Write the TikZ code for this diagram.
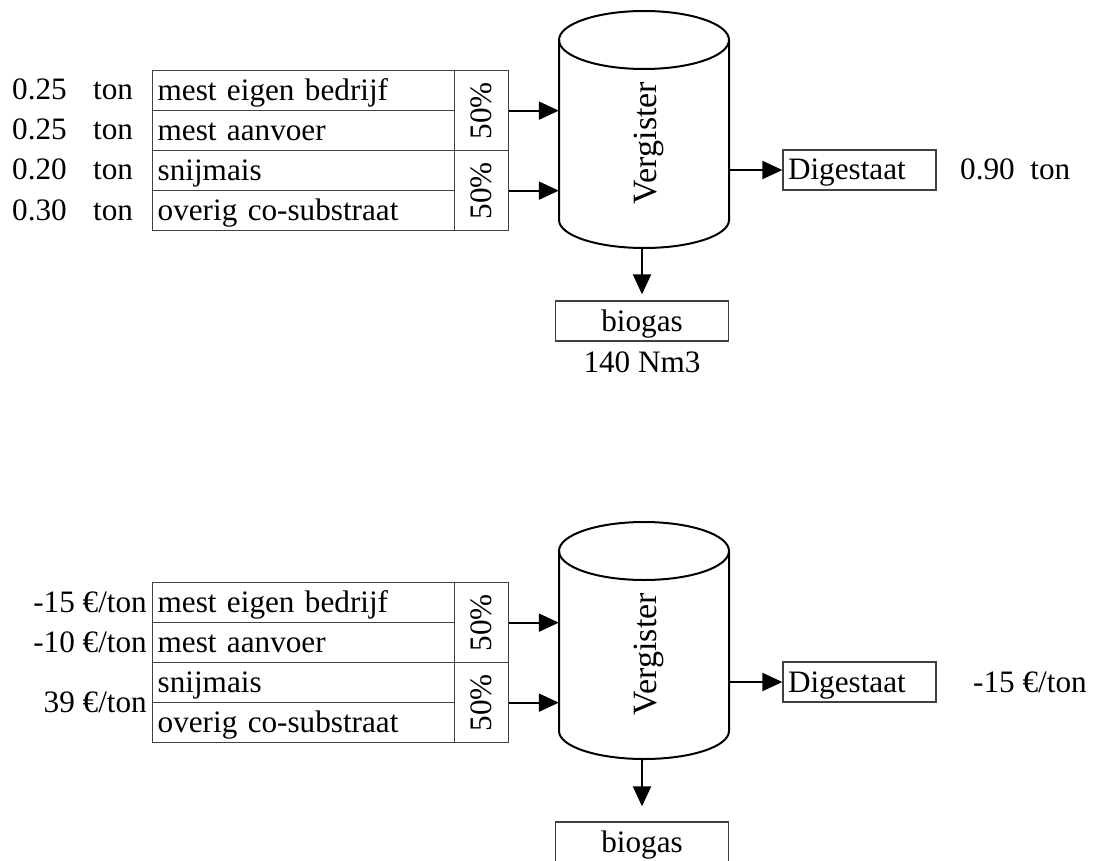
\documentclass[tikz,border=0pt]{standalone}
\usepackage{fontspec}
\setmainfont{Liberation Serif}
\usetikzlibrary{arrows.meta}

\begin{document}
\begin{tikzpicture}[x=1pt, y=-1pt,
  font=\fontsize{31.2}{36}\selectfont,
  txt/.style={inner sep=0pt, text height=20pt, text depth=0pt},
  cell/.style={txt, draw=black!75, line width=1.3pt, anchor=north west,
    minimum height=40pt, text width=292pt, inner xsep=5pt, align=left},
  pcell/.style={draw=black!75, line width=1.3pt, anchor=north west,
    minimum width=54pt, minimum height=80pt, inner sep=0pt},
  outbox/.style={txt, draw=black!75, line width=1.3pt, minimum height=40pt},
  body/.style={inner sep=0pt, minimum width=170pt, minimum height=238pt},
  tank/.style={draw=black, line width=2pt},
  tanklabel/.style={inner sep=0pt, text height=22pt, text depth=0pt, rotate=90,
    font=\fontsize{34}{40}\selectfont},
  arr/.style={draw=black, line width=2pt, -{Triangle[length=20pt, width=18pt]}}
]
\useasboundingbox (0,0) rectangle (1097,861);

% ---------- quantities ----------
\node[txt, anchor=west] (aq1) at (12,90)  {0.25};
\node[txt, anchor=west] (aq2) at (12,130) {0.25};
\node[txt, anchor=west] (aq3) at (12,170) {0.20};
\node[txt, anchor=west] (aq4) at (12,210) {0.30};
\node[txt, anchor=west] (au1) at (93,90)  {ton};
\node[txt, anchor=west] (au2) at (93,130) {ton};
\node[txt, anchor=west] (au3) at (93,170) {ton};
\node[txt, anchor=west] (au4) at (93,210) {ton};

\node[cell] (a1) at (152,70)  {mest eigen bedrijf};
\node[cell] (a2) at (152,110) {mest aanvoer};
\node[cell] (a3) at (152,150) {snijmais};
\node[cell] (a4) at (152,190) {overig co-substraat};
\node[pcell] (ap1) at (454,70)  {};
\node[pcell] (ap2) at (454,150) {};
\node[txt, rotate=90] (apl1) at (ap1.center) {50\%};
\node[txt, rotate=90] (apl2) at (ap2.center) {50\%};

\node[body] (acyl) at (644,129) {};
\draw[tank] (559,40) -- (559,220) arc[start angle=180, end angle=0, x radius=85, y radius=28] -- (729,40);
\draw[tank] (644,40) ellipse[x radius=85, y radius=29];
\node[tanklabel] (averg) at (645,143) {Vergister};

\node[outbox, text width=143pt, inner xsep=5pt, align=left] (adig) at (859.5,170) {Digestaat};
\node[txt, anchor=west] (adigq) at (960,170) {0.90\hspace{0.5em}ton};

\node[outbox, minimum width=173pt] (abio) at (642,321) {biogas};
\node[txt] (abioq) at (642,362) {140 Nm3};

\draw[arr] (ap1.east) -- (ap1.east -| acyl.west);
\draw[arr] (ap2.east) -- (ap2.east -| acyl.west);
\draw[arr] (adig.west -| acyl.east) -- (adig.west);
\draw[arr, shorten >=6pt] (abio.north |- acyl.south) -- (abio.north);

% ---------- prices ----------
\node[txt, anchor=east] (bq1) at (147,602) {-15 \texteuro/ton};
\node[txt, anchor=east] (bq2) at (147,642) {-10 \texteuro/ton};
\node[txt, anchor=east] (bq3) at (147,702) {39 \texteuro/ton};

\node[cell] (b1) at (152,582) {mest eigen bedrijf};
\node[cell] (b2) at (152,622) {mest aanvoer};
\node[cell] (b3) at (152,662) {snijmais};
\node[cell] (b4) at (152,702) {overig co-substraat};
\node[pcell] (bp1) at (454,582) {};
\node[pcell] (bp2) at (454,662) {};
\node[txt, rotate=90] (bpl1) at (bp1.center) {50\%};
\node[txt, rotate=90] (bpl2) at (bp2.center) {50\%};

\node[body] (bcyl) at (644,640) {};
\draw[tank] (559,551) -- (559,731) arc[start angle=180, end angle=0, x radius=85, y radius=28] -- (729,551);
\draw[tank] (644,551) ellipse[x radius=85, y radius=29];
\node[tanklabel] (bverg) at (645,654) {Vergister};

\node[outbox, text width=143pt, inner xsep=5pt, align=left] (bdig) at (859.5,682) {Digestaat};
\node[txt, anchor=west] (bdigq) at (973,682) {-15 \texteuro/ton};

\node[outbox, minimum width=173pt] (bbio) at (642,842) {biogas};

\draw[arr] (bp1.east) -- (bp1.east -| bcyl.west);
\draw[arr] (bp2.east) -- (bp2.east -| bcyl.west);
\draw[arr] (bdig.west -| bcyl.east) -- (bdig.west);
\draw[arr, shorten >=15pt] (bbio.north |- bcyl.south) -- (bbio.north);
\end{tikzpicture}
\end{document}
